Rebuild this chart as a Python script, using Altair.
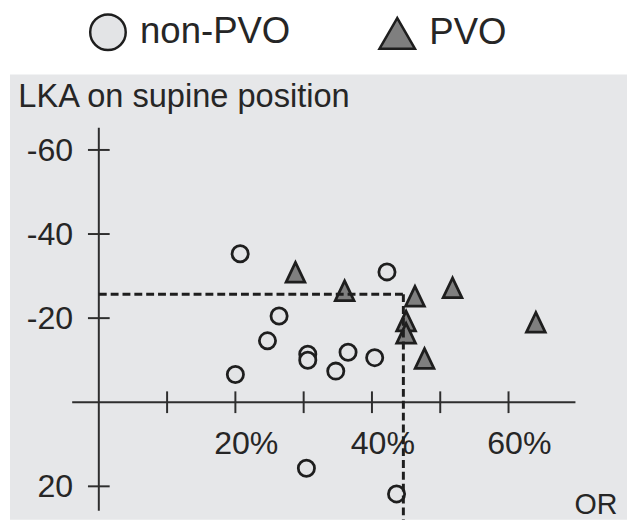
import altair as alt
import pandas as pd

# ---- data ----
groups = ["non-PVO", "PVO"]

# non-PVO (open circles): OR (%) and LKA on supine position
nonpvo_or = [20.7, 26.4, 24.7, 30.6, 30.6, 36.5, 34.7, 20.0, 42.2, 40.4, 30.4, 43.6]
nonpvo_lka = [-35.3, -20.5, -14.6, -11.4, -10.0, -11.9, -7.4, -6.6, -31.0, -10.6, 15.7, 21.8]

# PVO (grey triangles)
pvo_or = [28.8, 36.0, 46.3, 51.8, 45.0, 45.0, 47.7, 64.0]
pvo_lka = [-30.9, -26.5, -25.2, -27.2, -19.3, -16.4, -10.4, -19.0]

# axes drawn through the origin
x_ticks = [10, 20, 30, 40, 50, 60]
x_label_values = [20, 40, 60]
x_labels = ["20%", "40%", "60%"]
y_ticks = [-60, -40, -20, 20]
y_labels = ["-60", "-40", "-20", "20"]
x_axis_extent = [-3.9, 69.8]
y_axis_extent = [-65.3, 25.8]

# cut-off (dashed)
cutoff_or = 44.6
cutoff_lka = -25.7

x_domain = [-13.01, 77.35]
y_domain = [-77.95, 27.94]

# ---- style ----
FONT = "Liberation Sans"
TXT = "#262626"
DARK = "#1e1e1e"
AXC = "#2e2e2e"
BG = "#e6e7e9"
CIRCLE_FILL = "#e3e4e6"
TRI_FILL = "#7f7f7f"
TRI_PATH = "M0,-1L-0.95,1L0.95,1Z"

xs = alt.Scale(domain=x_domain, nice=False, zero=False)
ys = alt.Scale(domain=y_domain, reverse=True, nice=False, zero=False)

AX_X = alt.Axis(
    domain=False, ticks=False, labels=False, grid=False, zindex=1,
    title="OR", titleX=593, titleY=-6, titleAlign="center", titleBaseline="alphabetic",
    titleFont=FONT, titleFontSize=29, titleFontWeight="normal", titleColor=TXT,
)
AX_Y = alt.Axis(
    domain=False, ticks=False, labels=False, grid=False, zindex=1,
    title="LKA on supine position", titleAngle=0, titleX=8, titleY=32,
    titleAlign="left", titleBaseline="alphabetic",
    titleFont=FONT, titleFontSize=33, titleFontWeight="normal", titleColor=TXT,
)


def X(f):
    return alt.X(f, type="quantitative", scale=xs, axis=AX_X)


def Y(f):
    return alt.Y(f, type="quantitative", scale=ys, axis=AX_Y)


non_df = pd.DataFrame({"x": nonpvo_or, "y": nonpvo_lka})
pvo_df = pd.DataFrame({"x": pvo_or, "y": pvo_lka})

panel = alt.Chart(pd.DataFrame({"x0": [x_domain[0]], "x1": [x_domain[1]], "y0": [y_domain[0]], "y1": [y_domain[1]]})).mark_rect(
    color=BG, opacity=1
).encode(x=X("x0"), x2=alt.X2("x1"), y=Y("y0"), y2=alt.Y2("y1"))

xline = alt.Chart(pd.DataFrame({"x0": [x_axis_extent[0]], "x1": [x_axis_extent[1]], "y": [0]})).mark_rule(
    color=AXC, strokeWidth=2
).encode(x=X("x0"), x2=alt.X2("x1"), y=Y("y"))

yline = alt.Chart(pd.DataFrame({"x": [0], "y0": [y_axis_extent[0]], "y1": [y_axis_extent[1]]})).mark_rule(
    color=AXC, strokeWidth=2
).encode(x=X("x"), y=Y("y0"), y2=alt.Y2("y1"))

xtick = alt.Chart(pd.DataFrame({"x": x_ticks, "y": [0] * len(x_ticks)})).mark_tick(
    orient="vertical", size=22, thickness=2, color=AXC, opacity=1
).encode(x=X("x"), y=Y("y"))

ytick = alt.Chart(pd.DataFrame({"x": [0] * len(y_ticks), "y": y_ticks})).mark_tick(
    orient="horizontal", size=22, thickness=2, color=AXC, opacity=1
).encode(x=X("x"), y=Y("y"))

xlab = alt.Chart(pd.DataFrame({"x": x_label_values, "y": [0] * len(x_label_values), "label": x_labels})).mark_text(
    font=FONT, fontSize=32.5, color=TXT, align="center", baseline="middle", dx=11, dy=42
).encode(x=X("x"), y=Y("y"), text="label:N")

ylab = alt.Chart(pd.DataFrame({"x": [0] * len(y_ticks), "y": y_ticks, "label": y_labels})).mark_text(
    font=FONT, fontSize=32.5, color=TXT, align="right", baseline="middle", dx=-26, dy=1
).encode(x=X("x"), y=Y("y"), text="label:N")

circles = alt.Chart(non_df).mark_point(
    shape="circle", filled=True, size=270, fill=CIRCLE_FILL, stroke=DARK, strokeWidth=2.8, opacity=1
).encode(x=X("x"), y=Y("y"))

triangles = alt.Chart(pvo_df).mark_point(
    shape=TRI_PATH, filled=True, size=400, fill=TRI_FILL, stroke=DARK, strokeWidth=2.8, opacity=1
).encode(x=X("x"), y=Y("y"))

dash_h = alt.Chart(pd.DataFrame({"x0": [0], "x1": [cutoff_or], "y": [cutoff_lka]})).mark_rule(
    color=DARK, strokeWidth=3, strokeDash=[8, 4]
).encode(x=X("x0"), x2=alt.X2("x1"), y=Y("y"))

dash_v = alt.Chart(pd.DataFrame({"x": [cutoff_or], "y0": [cutoff_lka], "y1": [y_domain[1]]})).mark_rule(
    color=DARK, strokeWidth=3, strokeDash=[8, 4]
).encode(x=X("x"), y=Y("y0"), y2=alt.Y2("y1"))

legend_def = alt.Legend(
    orient="none", legendX=79.75, legendY=-62.5, direction="horizontal", title=None,
    labelFont=FONT, labelFontSize=37, labelColor=TXT, labelOffset=13, labelLimit=400,
    symbolSize=1296, symbolStrokeWidth=2.5, columnPadding=84, padding=0,
)

legend_layer = alt.Chart(pd.DataFrame({"group": groups})).mark_point(
    filled=True, size=0, stroke=DARK, strokeWidth=2.5, opacity=1
).encode(
    shape=alt.Shape("group:N", scale=alt.Scale(domain=groups, range=["circle", "triangle-up"]), legend=legend_def),
    fill=alt.Fill("group:N", scale=alt.Scale(domain=groups, range=[CIRCLE_FILL, TRI_FILL]), legend=legend_def),
)

chart = alt.layer(
    panel, xline, yline, xtick, ytick, xlab, ylab, circles, triangles, dash_h, dash_v, legend_layer
).properties(
    width=625,
    height=451,
    autosize=alt.AutoSizeParams(type="none"),
    padding={"left": 2, "top": 64, "right": 0, "bottom": 0},
    background="white",
).configure_view(strokeWidth=0)

chart.save("out.html", embed_options={"renderer": "svg", "actions": False})
